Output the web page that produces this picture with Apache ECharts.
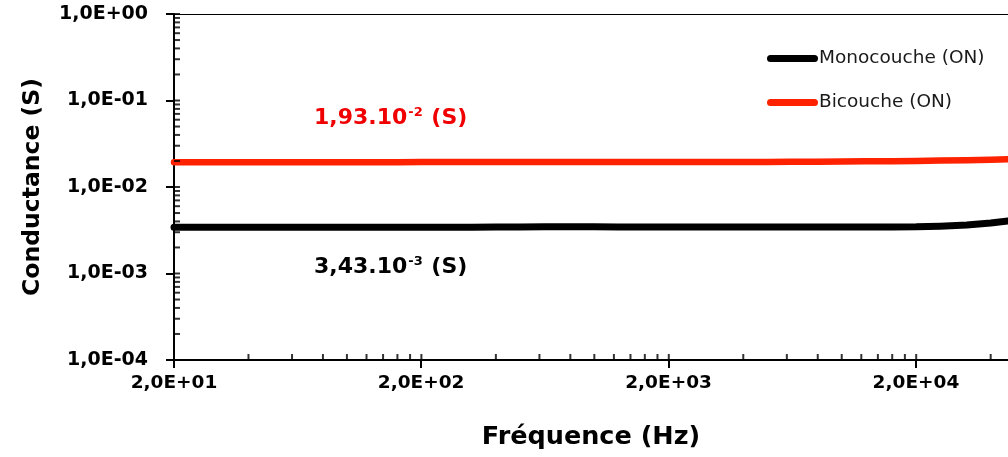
<!DOCTYPE html>
<html><head><meta charset="utf-8">
<script src="https://cdn.jsdelivr.net/npm/echarts@6/dist/echarts.min.js"></script>
<style>html,body{margin:0;padding:0;background:#fff}#c{width:1008px;height:457px}</style>
</head><body><div id="c"></div>
<script>
const frequencies = [20, 25, 32, 40, 50, 63, 80, 100, 125, 160, 200, 250, 320, 400, 500, 630, 800, 1000, 1250, 1600, 2000, 2500, 3200, 4000, 5000, 6300, 8000, 10000, 12500, 16000, 20000, 25000, 32000, 40000, 47000];
const monocouche = [3.42e-3, 3.42e-3, 3.42e-3, 3.42e-3, 3.42e-3, 3.42e-3, 3.43e-3, 3.43e-3, 3.43e-3, 3.43e-3, 3.43e-3, 3.43e-3, 3.43e-3, 3.44e-3, 3.45e-3, 3.46e-3, 3.47e-3, 3.46e-3, 3.45e-3, 3.45e-3, 3.45e-3, 3.45e-3, 3.45e-3, 3.45e-3, 3.45e-3, 3.45e-3, 3.45e-3, 3.45e-3, 3.45e-3, 3.45e-3, 3.46e-3, 3.52e-3, 3.64e-3, 3.84e-3, 4.05e-3];
const bicouche = [1.93e-2, 1.93e-2, 1.93e-2, 1.93e-2, 1.93e-2, 1.93e-2, 1.93e-2, 1.93e-2, 1.93e-2, 1.93e-2, 1.94e-2, 1.94e-2, 1.94e-2, 1.94e-2, 1.94e-2, 1.94e-2, 1.94e-2, 1.94e-2, 1.94e-2, 1.94e-2, 1.94e-2, 1.94e-2, 1.94e-2, 1.95e-2, 1.95e-2, 1.96e-2, 1.96e-2, 1.97e-2, 1.98e-2, 1.99e-2, 2.00e-2, 2.02e-2, 2.04e-2, 2.07e-2, 2.09e-2];
const seriesNames = ['Monocouche (ON)', 'Bicouche (ON)'];
const xMajorTicks = [20, 200, 2000, 20000];
const xMinorTicks = [40, 60, 80, 100, 120, 140, 160, 180, 400, 600, 800, 1000, 1200, 1400, 1600, 1800, 4000, 6000, 8000, 10000, 12000, 14000, 16000, 18000, 40000];
const yMajorTicks = [1e-4, 1e-3, 1e-2, 1e-1, 1];
const yMinorTicks = [2e-4, 3e-4, 4e-4, 5e-4, 6e-4, 7e-4, 8e-4, 9e-4, 2e-3, 3e-3, 4e-3, 5e-3, 6e-3, 7e-3, 8e-3, 9e-3, 2e-2, 3e-2, 4e-2, 5e-2, 6e-2, 7e-2, 8e-2, 9e-2, 0.2, 0.3, 0.4, 0.5, 0.6, 0.7, 0.8, 0.9];
const xMin = 20, xMax = 47000, yMin = 1e-4, yMax = 1;

function fmtExp(v) {
  const s = Number(v).toExponential(1);
  const parts = s.split('e');
  const e = parseInt(parts[1], 10);
  const sign = e < 0 ? '-' : '+';
  const a = Math.abs(e);
  return parts[0].replace('.', ',') + 'E' + sign + (a < 10 ? '0' + a : '' + a);
}

const FONT = 'DejaVu Sans';
const chart = echarts.init(document.getElementById('c'), null, {renderer: 'canvas'});

const tickSeries = (name, data, size, offset) => ({
  name: name, type: 'scatter', data: data, symbol: 'rect', symbolSize: size, symbolOffset: offset,
  itemStyle: {color: '#000'}, clip: false, silent: true, z: 5, legendHoverLink: false, tooltip: {show: false}
});

const option = {
  animation: false,
  backgroundColor: '#ffffff',
  grid: {left: 174, right: 0, top: 14, bottom: 97, containLabel: false},
  legend: {
    orient: 'vertical', left: 767, top: 49, itemGap: 25, padding: 0,
    itemWidth: 51, itemHeight: 7, icon: 'path://M3.5,0 H47.5 A3.5,3.5 0 0 1 47.5,7 H3.5 A3.5,3.5 0 0 1 3.5,0 Z',
    data: seriesNames,
    textStyle: {fontFamily: FONT, fontSize: 18.5, color: '#1a1a1a', padding: [0, 0, 0, -4]}
  },
  xAxis: [{
    type: 'log', logBase: 10, min: xMin, max: xMax, interval: 1,
    name: 'Fréquence (Hz)', nameLocation: 'middle', nameGap: 64,
    nameTextStyle: {fontFamily: FONT, fontWeight: 'bold', fontSize: 25.5, color: '#000'},
    axisLine: {show: true, lineStyle: {color: '#000', width: 2}},
    axisTick: {show: true, length: 8, lineStyle: {color: '#000', width: 2}},
    minorTick: {show: false},
    splitLine: {show: false},
    axisLabel: {fontFamily: FONT, fontWeight: 'bold', fontSize: 18.5, color: '#000', margin: 14, formatter: fmtExp, showMaxLabel: false}
  }, {
    type: 'log', logBase: 10, min: xMin, max: xMax, position: 'top',
    axisLine: {show: true, lineStyle: {color: '#000', width: 1.2}},
    axisTick: {show: false}, axisLabel: {show: false}, splitLine: {show: false}
  }],
  yAxis: {
    type: 'log', logBase: 10, min: yMin, max: yMax,
    name: 'Conductance (S)', nameLocation: 'middle', nameGap: 129,
    nameTextStyle: {fontFamily: FONT, fontWeight: 'bold', fontSize: 23.5, color: '#000'},
    axisLine: {show: true, lineStyle: {color: '#000', width: 2}},
    axisTick: {show: true, length: 8, lineStyle: {color: '#000', width: 2}},
    splitLine: {show: false},
    axisLabel: {fontFamily: FONT, fontWeight: 'bold', fontSize: 19, color: '#000', margin: 26, formatter: fmtExp}
  },
  series: [
    {
      name: seriesNames[0], type: 'line', data: frequencies.map((f, i) => [f, monocouche[i]]),
      showSymbol: false, symbol: 'none', smooth: false, clip: false,
      lineStyle: {color: '#000000', width: 7, cap: 'round', join: 'round'}, itemStyle: {color: '#000000'}, z: 3
    },
    {
      name: seriesNames[1], type: 'line', data: frequencies.map((f, i) => [f, bicouche[i]]),
      showSymbol: false, symbol: 'none', smooth: false, clip: false,
      lineStyle: {color: '#ff2200', width: 6.5, cap: 'round', join: 'round'}, itemStyle: {color: '#ff2200'}, z: 3
    },
    tickSeries('xminor', xMinorTicks.concat(xMajorTicks).map(v => [v, yMin]), [2, 6], [0, -3]),
    tickSeries('yminor', yMinorTicks.concat(yMajorTicks).map(v => [xMin, v]), [6, 2], [3, 0])
  ],
  graphic: [
    {
      type: 'text', left: 314, top: 106, silent: true,
      style: {
        text: '{a|1,93.10}{s|-2}{a| (S)}',
        rich: {
          a: {fontFamily: FONT, fontWeight: 'bold', fontSize: 22, fill: '#f00000', verticalAlign: 'bottom'},
          s: {fontFamily: FONT, fontWeight: 'bold', fontSize: 13, fill: '#f00000', verticalAlign: 'top', padding: [0, 1, 10, 1]}
        }
      }
    },
    {
      type: 'text', left: 314, top: 255, silent: true,
      style: {
        text: '{a|3,43.10}{s|-3}{a| (S)}',
        rich: {
          a: {fontFamily: FONT, fontWeight: 'bold', fontSize: 22, fill: '#000', verticalAlign: 'bottom'},
          s: {fontFamily: FONT, fontWeight: 'bold', fontSize: 13, fill: '#000', verticalAlign: 'top', padding: [0, 1, 10, 1]}
        }
      }
    }
  ]
};
chart.setOption(option);
</script>
</body></html>
